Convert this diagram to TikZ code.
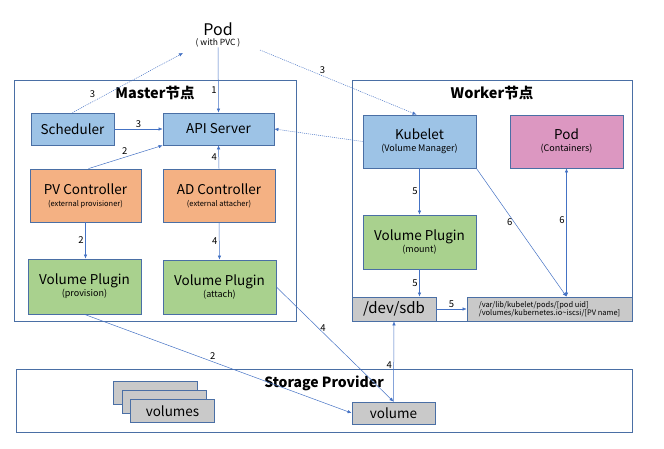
\documentclass[tikz,border=0pt]{standalone}
\usepackage{fontspec}
\setmainfont{Noto Sans CJK SC}
\usetikzlibrary{arrows.meta}
\definecolor{bordc}{HTML}{4A6FA5}
\definecolor{arrc}{HTML}{4472C4}
\definecolor{bluef}{HTML}{9DC3E6}
\definecolor{orangef}{HTML}{F4B183}
\definecolor{greenf}{HTML}{A9D18E}
\definecolor{pinkf}{HTML}{DC97C1}
\definecolor{grayf}{HTML}{C9C9C9}
\newcommand{\sub}[2][9]{\\[-3pt]{\fontsize{#1}{10}\selectfont #2}}
\begin{document}
\begin{tikzpicture}[x=1pt,y=-1pt,
  frame/.style={draw=bordc,line width=0.8pt,inner sep=0pt},
  box/.style={draw=bordc,line width=0.8pt,inner sep=0pt,align=center,font=\fontsize{13.5}{15}\selectfont},
  title/.style={font=\fontsize{14.5}{16}\selectfont\bfseries},
  arr/.style={draw=arrc,line width=0.5pt,-{Latex[length=4pt,width=3.5pt]}},
  dot/.style={arr,dash pattern=on 1pt off 1pt},
  lbl/.style={font=\fontsize{9.5}{10}\selectfont,inner sep=1.5pt}]
\useasboundingbox (0,0) rectangle (664,449);
% frames
\node[frame,minimum width=282,minimum height=241] (master) at (155,200.5) {};
\node[frame,minimum width=280,minimum height=241] (worker) at (492,200.5) {};
\node[frame,minimum width=616,minimum height=63] (storage) at (324,400.5) {};
\node[title] (mtitle) at (155,93) {Master节点};
\node[title] (wtitle) at (492,93) {Worker节点};
\node[title,font=\fontsize{14}{16}\selectfont\bfseries] (stitle) at (324,383) {Storage Provider};
% pod with pvc
\node[align=center,inner sep=0pt] (podreq) at (218,35) {{\fontsize{16}{17}\selectfont Pod}\\[-2pt]{\fontsize{8.5}{9}\selectfont ( with PVC )}};
\coordinate (pvcl) at (183,53);
\coordinate (pvcr) at (260,50);
% master
\node[box,fill=bluef,minimum width=83,minimum height=32] (sched) at (72.5,129) {Scheduler};
\node[box,fill=bluef,minimum width=111,minimum height=32] (api) at (218.5,129) {API Server};
\node[box,fill=orangef,minimum width=111,minimum height=53] (pvc) at (85.5,195.5) {PV Controller\sub[7.5]{(external provisioner)}};
\node[box,fill=orangef,minimum width=112,minimum height=53] (adc) at (219,195.5) {AD Controller\sub[7.5]{(external attacher)}};
\node[box,fill=greenf,minimum width=113,minimum height=55] (vpp) at (84.5,286.5) {Volume Plugin\sub{(provision)}};
\node[box,fill=greenf,minimum width=113,minimum height=54] (vpa) at (219.5,287) {Volume Plugin\sub{(attach)}};
% worker
\node[box,fill=bluef,minimum width=113,minimum height=53] (kubelet) at (419.5,141.5) {Kubelet\sub{(Volume Manager)}};
\node[box,fill=pinkf,minimum width=113,minimum height=53] (podc) at (566.5,141.5) {Pod\sub{(Containers)}};
\node[box,fill=greenf,minimum width=113,minimum height=54] (vpm) at (419.5,242) {Volume Plugin\sub{(mount)}};
\node[box,fill=grayf,minimum width=84,minimum height=24,font=\fontsize{15}{16}\selectfont] (sdb) at (394,309) {/dev/sdb};
\node[box,fill=grayf,minimum width=165,minimum height=24,align=left,font=\fontsize{7.5}{8.5}\selectfont] (path) at (549.5,309) {/var/lib/kubelet/pods/[pod uid]\\/volumes/kubernetes.io\textasciitilde iscsi/[PV name]};
% storage
\node[box,fill=grayf,minimum width=84,minimum height=23] (vols3) at (155,393) {};
\node[box,fill=grayf,minimum width=84,minimum height=23] (vols2) at (164,401.5) {};
\node[box,fill=grayf,minimum width=84,minimum height=23] (vols) at (172.5,411) {volumes};
\node[box,fill=grayf,minimum width=83,minimum height=22] (vol) at (393.5,413) {volume};
% connectors
\draw[arr] (podreq.south) -- node[lbl,pos=0.65,left] {1} (api.north);
\draw[dot] (sched.north) -- node[lbl,pos=0.22,above left] {3} (pvcl);
\draw[dot] (pvcr) -- node[lbl,pos=0.4,above] {3} ([xshift=-3pt]kubelet.north);
\draw[arr] (sched.east) -- node[lbl,above] {3} (api.west);
\draw[arr] ([xshift=3pt]pvc.north) -- node[lbl,pos=0.55,above left] {2} (api.south west);
\draw[arr] (adc.north) -- node[lbl,left] {4} (api.south);
\draw[dot] (kubelet.west) -- (api.east);
\draw[arr] (pvc.south) -- node[lbl,left] {2} (vpp.north -| pvc.south);
\draw[arr] (adc.south) -- node[lbl,left] {4} (vpa.north);
\draw[arr] (kubelet.south) -- node[lbl,left] {5} (vpm.north);
\draw[arr] (vpm.south) -- node[lbl,left] {5} (vpm.south |- sdb.north);
\draw[arr] (sdb.east) -- node[lbl,above] {5} (path.west);
\draw[arr] (kubelet.south east) -- node[lbl,pos=0.42,left] {6} (podc.south |- path.north);
\draw[arr,{Latex[length=4pt,width=3.5pt]}-{Latex[length=4pt,width=3.5pt]}] (podc.south) -- node[lbl,pos=0.4,left] {6} (podc.south |- path.north);
\draw[arr] (vpp.south) -- node[lbl,pos=0.48,above] {2} (vol.west);
\draw[arr] (vpa.east) -- node[lbl,pos=0.36,right] {4} (vol.north);
\draw[arr] (vol.north) -- node[lbl,pos=0.45,left] {4} (sdb.south);
\end{tikzpicture}
\end{document}
